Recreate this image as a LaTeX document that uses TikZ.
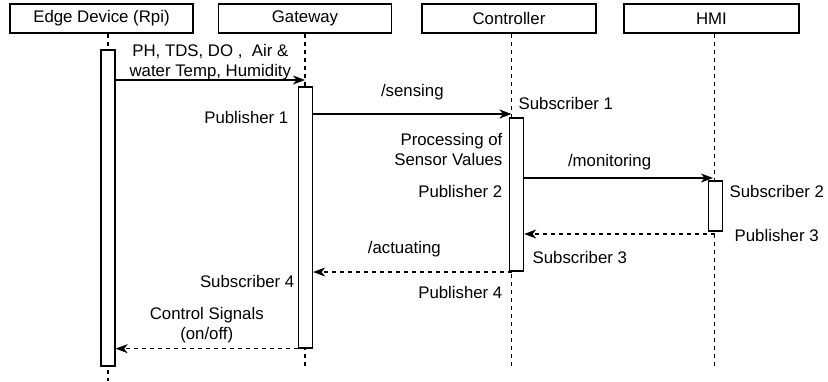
\documentclass[tikz,border=0pt]{standalone}
\usepackage{fontspec}
\setmainfont{Liberation Sans}
\usetikzlibrary{arrows.meta}

\begin{document}
\begin{tikzpicture}[x=1pt, y=-1pt, line width=1.3pt,
  every node/.style={font=\fontsize{16.8}{20}\selectfont, inner sep=2pt},
  head/.style={draw, rectangle, minimum height=29pt},
  bar/.style={draw, fill=white, rectangle, minimum width=14pt, inner sep=0pt},
  life/.style={dash pattern=on 4pt off 4pt},
  msg/.style={-{Stealth[length=12pt, width=9pt, inset=3.5pt]}},
  reply/.style={msg, dash pattern=on 4pt off 4pt}]

\useasboundingbox (0,0) rectangle (828,381);

% participants
\path (101.5,18.5) node[head, minimum width=183pt] (edge) {Edge Device (Rpi)};
\path (edge) +(203.5,0) node[head, minimum width=173pt] (gateway) {Gateway};
\path (gateway) +(204,0) node[head, minimum width=174pt] (controller) {Controller};
\path (controller) +(202.5,0) node[head, minimum width=175pt] (hmi) {HMI};

% lifelines
\coordinate (edgeend) at (108,381);
\coordinate (gwend) at (305,366);
\coordinate (ctrlend) at (511.5,366);
\coordinate (hmiend) at (714.5,366);
\draw[life] (edge.south -| edgeend) -- (edgeend);
\draw[life] (gateway.south -| gwend) -- (gwend);
\draw[life] (controller.south -| ctrlend) -- (ctrlend);
\draw[life] (hmi.south -| hmiend) -- (hmiend);

% activation bars
\path (108,208) node[bar, minimum height=316pt] (edgebar) {};
\path (305.5,217.5) node[bar, minimum height=261pt] (gwbar) {};
\path (516.5,194.5) node[bar, minimum height=153pt] (ctrlbar) {};
\path (715.5,206) node[bar, minimum height=50pt] (hmibar) {};

% messages
\coordinate (m1) at (305,80);
\draw[msg] (edgebar.east |- m1) -- (m1)
  node[midway, yshift=18pt, align=center] {PH, TDS, DO ,~ Air \&\\water Temp, Humidity};
\coordinate (m2) at (511.5,114);
\draw[msg] (gwbar.east |- m2) -- (m2) node[midway, yshift=22pt] {/sensing};
\coordinate (m3) at (713,178);
\draw[msg] (ctrlbar.east |- m3) -- (m3) node[midway, xshift=-9pt, yshift=16pt] {/monitoring};
\coordinate (m4) at (714.5,234);
\draw[reply] (m4) -- (ctrlbar.east |- m4);
\coordinate (m5) at (511.5,272);
\draw[reply] (m5) -- (gwbar.east |- m5) node[midway, xshift=-8pt, yshift=23pt] {/actuating};
\draw[reply] (gwbar.south west) -- (edgebar.east |- gwbar.south west)
  node[midway, yshift=24pt, align=center] {Control Signals\\(on/off)};

% roles
\node[anchor=east] (pub1) at (291,117) {Publisher 1};
\node[anchor=west] (sub1) at (516,103) {Subscriber 1};
\node[anchor=east, align=right] (proc) at (505,149) {Processing of\\Sensor Values};
\node[anchor=east] (pub2) at (505,191) {Publisher 2};
\node[anchor=west] (sub2) at (727,191) {Subscriber 2};
\node[anchor=west] (pub3) at (732,235) {Publisher 3};
\node[anchor=west] (sub3) at (530,257) {Subscriber 3};
\node[anchor=east] (sub4) at (297,281) {Subscriber 4};
\node[anchor=east] (pub4) at (505,292) {Publisher 4};

\end{tikzpicture}
\end{document}
